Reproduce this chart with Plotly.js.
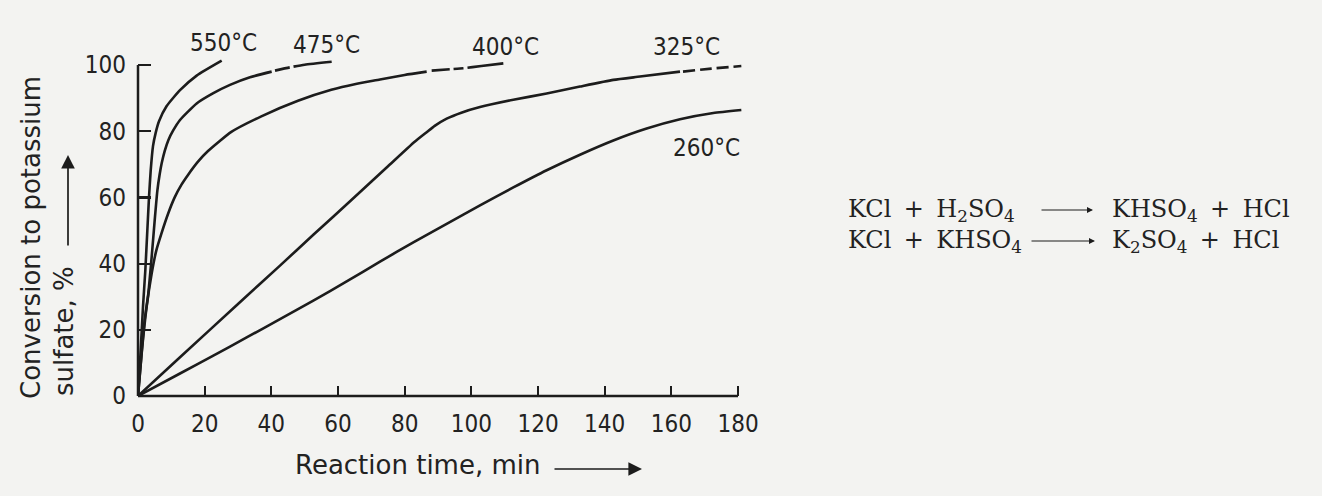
<!DOCTYPE html>
<html><head><meta charset="utf-8">
<script src="https://cdn.plot.ly/plotly-3.0.1.min.js"></script>
<style>html,body{margin:0;padding:0;background:#f3f3f1;} #chart{width:1322px;height:496px;}</style>
</head><body><div id="chart"></div>
<script>
// ---------- data ----------
const x550 = [0, 0.7, 1.5, 2.2, 2.8, 3.3, 3.8, 4.5, 5.3, 6.3, 8.6, 12.6, 17.6, 25.1];
const y550 = [0, 12, 27, 38, 50, 60, 68, 75.5, 79.5, 83, 87.6, 92.4, 96.8, 101.3];

const x475 = [0, 1, 2, 3.1, 4.1, 5, 5.8, 6.5, 7.1, 8, 9.1, 10.6, 12.6, 17.6, 22.6, 27.6, 33.6, 40.1];
const y475 = [0, 12, 23, 31, 42, 53, 62, 67, 70.3, 74, 77.3, 80.3, 83.4, 88.4, 91.5, 94, 96.3, 98];
const x475d = [41.1, 45.6, 50, 58.1];
const y475d = [98.3, 99.3, 100.1, 101];

const x400 = [0, 1.2, 2.6, 4.1, 5.5, 7, 9, 11, 13, 15, 18, 21, 28, 37, 48, 58, 65, 72.6, 80, 86.6];
const y400 = [0, 14, 27, 37, 44, 49, 55, 60, 63.8, 66.8, 70.8, 74, 79.8, 84.5, 89.2, 92.5, 94.2, 95.6, 97, 98];
const x400d = [88.1, 93.6, 97.6, 103, 109.6];
const y400d = [98.3, 98.7, 99, 99.7, 100.5];

const x325 = [0, 12.6, 30, 42.6, 52.6, 65, 75, 83, 86.5, 89, 92.6, 97, 102.6, 112.6, 122.6, 132.6, 142.6, 150.6, 162.6];
const y325 = [0, 11.7, 27.8, 39.4, 48.7, 60.1, 69.4, 76.8, 79.6, 81.6, 83.8, 85.6, 87.3, 89.5, 91.4, 93.5, 95.5, 96.5, 98];
const x325d = [163.5, 172, 181];
const y325d = [98, 98.9, 99.7];

const x260 = [0, 12.6, 22.6, 32.6, 42.6, 52.6, 62.6, 72.6, 82.6, 92.6, 102.6, 112.6, 122.6, 132.6, 142.6, 152.6, 162.6, 172.6, 181];
const y260 = [0, 6.8, 12.2, 17.7, 23.2, 28.8, 34.6, 40.6, 46.4, 52, 57.6, 63, 68.2, 72.9, 77.2, 80.8, 83.6, 85.5, 86.4];

const curveLabels = ['550°C', '475°C', '400°C', '325°C', '260°C'];
const xTicks = [0, 20, 40, 60, 80, 100, 120, 140, 160, 180];
const yTicks = [0, 20, 40, 60, 80, 100];
const xTitle = 'Reaction time, min';
const yTitle1 = 'Conversion to potassium';
const yTitle2 = 'sulfate, %';
const PLUS = '\u00A0\u2009+\u2009\u00A0';
const eqLeft = ['KCl' + PLUS + 'H<sub>2</sub>SO<sub>4</sub>', 'KCl' + PLUS + 'KHSO<sub>4</sub>'];
const eqRight = ['KHSO<sub>4</sub>' + PLUS + 'HCl', 'K<sub>2</sub>SO<sub>4</sub>' + PLUS + 'HCl'];

// ---------- layout geometry ----------
const L = 138, W = 610, T = 55, H = 341, B = 100;
const PW = 1322, PH = 496;
const px = p => (p - L) / W;            // pixel -> paper x
const py = p => (PH - B - p) / H;       // pixel -> paper y

const ink = '#1c1c1c';
const sansC = '"DejaVu Sans Condensed", "DejaVu Sans", sans-serif';
const sans = '"DejaVu Sans", sans-serif';
const serif = '"DejaVu Serif", "Liberation Serif", serif';

function solid(x, y) {
  return {x, y, type: 'scatter', mode: 'lines', hoverinfo: 'skip',
          line: {color: ink, width: 2.6, shape: 'spline', smoothing: 0.5}};
}
function dashed(x, y, dash) {
  return {x, y, type: 'scatter', mode: 'lines', hoverinfo: 'skip',
          line: {color: ink, width: 2.6, dash: dash, shape: 'spline', smoothing: 0.5}};
}

const traces = [
  solid(x550, y550),
  solid(x475, y475), dashed(x475d, y475d, '15px,4px,40px'),
  solid(x400, y400), dashed(x400d, y400d, '18px,4px,10px,4px,40px'),
  solid(x325, y325), dashed(x325d, y325d, '12px,5px'),
  solid(x260, y260)
];

function label(text, cx, cy) {
  return {text, xref: 'paper', yref: 'paper', x: px(cx), y: py(cy),
          xanchor: 'center', yanchor: 'middle', showarrow: false,
          font: {family: sansC, size: 24, color: '#222'}};
}
function arrow(hx, hy, tx, ty, size, width) {
  return {text: '', xref: 'paper', yref: 'paper', x: px(hx), y: py(hy),
          ax: tx - hx, ay: ty - hy, showarrow: true, arrowhead: 2,
          arrowsize: size, arrowwidth: width, arrowcolor: ink, standoff: 0, startstandoff: 0};
}
function eqText(lines, lx, cy) {
  return {text: lines.join('<br>'), xref: 'paper', yref: 'paper', x: px(lx), y: py(cy),
          xanchor: 'left', yanchor: 'middle', align: 'left', showarrow: false,
          font: {family: serif, size: 24, color: '#222'}};
}

const annotations = [
  label(curveLabels[0], 223, 43),
  label(curveLabels[1], 326, 45),
  label(curveLabels[2], 505, 47),
  label(curveLabels[3], 686, 47),
  label(curveLabels[4], 706, 148),
  // axis titles
  {text: xTitle, xref: 'paper', yref: 'paper', x: px(418), y: py(465),
   xanchor: 'center', yanchor: 'middle', showarrow: false,
   font: {family: sans, size: 26, color: '#222'}},
  arrow(642, 469, 553, 469, 1.6, 1.7),
  {text: yTitle1, xref: 'paper', yref: 'paper', x: px(31), y: py(238),
   xanchor: 'center', yanchor: 'middle', showarrow: false, textangle: -90,
   font: {family: sans, size: 26, color: '#222'}},
  {text: yTitle2, xref: 'paper', yref: 'paper', x: px(64), y: py(331),
   xanchor: 'center', yanchor: 'middle', showarrow: false, textangle: -90,
   font: {family: sans, size: 26, color: '#222'}},
  arrow(68, 155, 68, 247, 1.6, 1.7),
  // equations
  eqText(eqLeft, 846, 226),
  arrow(1093, 210, 1040, 210, 1, 1.2),
  arrow(1095, 241, 1030, 241, 1, 1.2),
  eqText(eqRight, 1110, 226)
];

const shapes = [
  {type: 'line', xref: 'paper', yref: 'y', x0: 0, x1: 0, y0: 0, y1: 100,
   line: {color: ink, width: 2.5}},
  {type: 'line', xref: 'x', yref: 'paper', x0: 0, x1: 180, y0: 0, y1: 0,
   line: {color: ink, width: 2.5}}
];

const layout = {
  width: PW, height: PH,
  margin: {l: L, r: PW - L - W, t: T, b: B, pad: 0},
  paper_bgcolor: '#f3f3f1', plot_bgcolor: 'rgba(0,0,0,0)',
  showlegend: false,
  xaxis: {range: [0, 183], showgrid: false, zeroline: false, showline: false,
          tickmode: 'array', tickvals: xTicks, ticktext: xTicks.map(String),
          ticks: 'inside', ticklen: 10, tickwidth: 2.2, tickcolor: ink,
          ticklabelstandoff: 11,
          tickfont: {family: sansC, size: 24, color: '#222'}, fixedrange: true},
  yaxis: {range: [0, H / 3.31], showgrid: false, zeroline: false, showline: false,
          tickmode: 'array', tickvals: yTicks, ticktext: yTicks.map(String),
          ticks: 'inside', ticklen: 13, tickwidth: 2.2, tickcolor: ink,
          ticklabelstandoff: 11,
          tickfont: {family: sansC, size: 24, color: '#222'}, fixedrange: true},
  annotations, shapes
};

Plotly.newPlot('chart', traces, layout, {staticPlot: true, displayModeBar: false});
</script></body></html>
